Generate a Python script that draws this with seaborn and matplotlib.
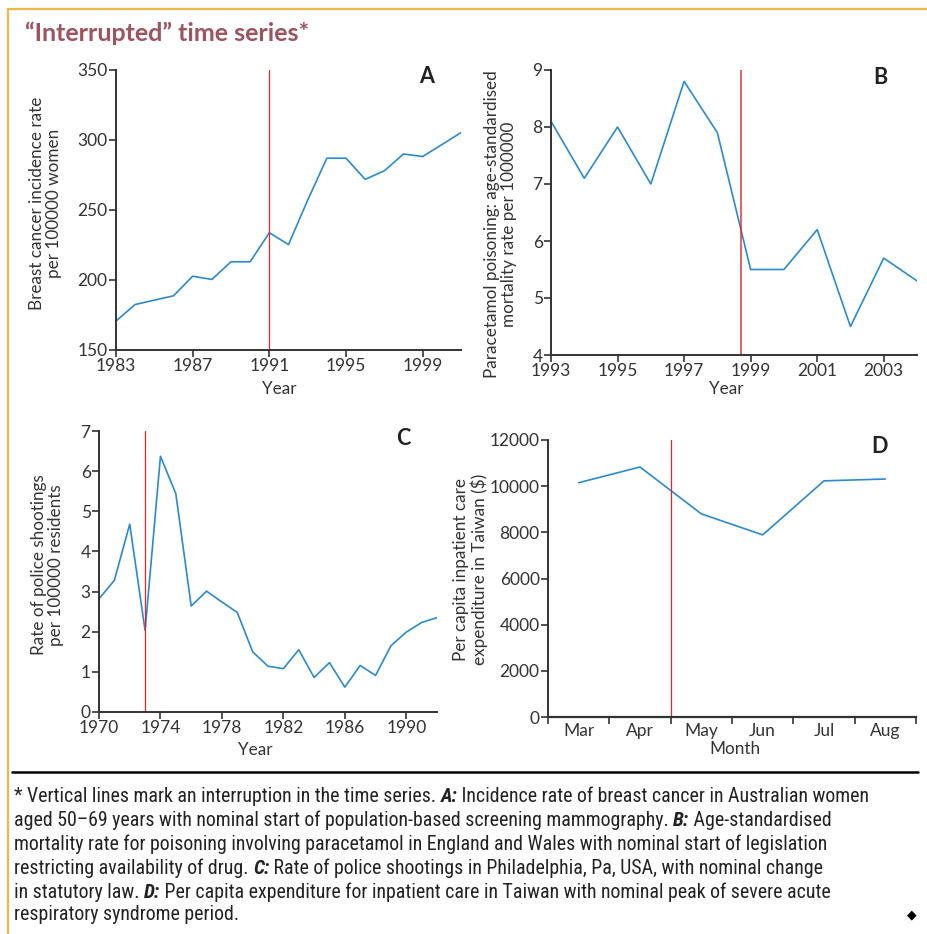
import matplotlib
matplotlib.use("Agg")
import matplotlib.pyplot as plt
import pandas as pd
import seaborn as sns
from matplotlib import font_manager
from matplotlib.lines import Line2D

sns.set_theme(style="ticks")

fonts = font_manager.fontManager.ttflist
installed = {f.name for f in fonts}
axis_font = "Lato" if "Lato" in installed else "DejaVu Sans"
plt.rcParams["font.family"] = [axis_font, "DejaVu Sans"]

# footnote in a narrow face if there is one
note_font, note_stretch = "DejaVu Sans", "normal"
for name in ["Liberation Sans Narrow", "Roboto Condensed", "Open Sans Condensed"]:
    if name in installed:
        note_font = name
        break
else:
    if any(f.name == "DejaVu Sans" and f.stretch == "condensed" for f in fonts):
        note_stretch = "condensed"

# panel A: breast cancer incidence
years_a = list(range(1983, 2002))
rate_a = [170.7, 182.5, 185.6, 188.7, 202.7, 200.4, 213, 213, 233.8, 225.3,
          257, 287, 287, 271.9, 278, 290, 288.2, 296.7, 305.3]
break_a = 1991

# panel B: paracetamol poisoning
years_b = list(range(1993, 2005))
rate_b = [8.1, 7.1, 8.0, 7.0, 8.8, 7.9, 5.5, 5.5, 6.2, 4.5, 5.7, 5.3]
break_b = 1998.7

# panel C: police shootings
years_c = list(range(1970, 1993))
rate_c = [2.82, 3.28, 4.68, 2.03, 6.37, 5.44, 2.64, 3.01, 2.74, 2.48, 1.50, 1.14,
          1.08, 1.55, 0.86, 1.23, 0.62, 1.16, 0.91, 1.65, 1.99, 2.23, 2.35]
break_c = 1973

# panel D: inpatient care expenditure
months_d = ["Mar", "Apr", "May", "Jun", "Jul", "Aug"]
spend_d = [10150, 10830, 8800, 7890, 10230, 10310]
break_d = 1.5

BLUE = "#2a8ad2"
RED = "#e8262a"
INK = "#333333"
W, H = 928, 934

fig = plt.figure(figsize=(W / 100, H / 100), dpi=100)


def box(left, top, right, bottom):
    return [left / W, 1 - bottom / H, (right - left) / W, (bottom - top) / H]


def style_axis(ax, letter, ylabel, xlabel, ylab_xy, xlab_xy):
    sns.despine(ax=ax)
    for s in ["left", "bottom"]:
        ax.spines[s].set_color(INK)
        ax.spines[s].set_linewidth(1.4)
    ax.tick_params(axis="both", colors=INK, labelcolor=INK, labelsize=12.5,
                   length=5, width=1.2, pad=1)
    ax.set_ylabel(ylabel, fontsize=12.3, color=INK, linespacing=1.1)
    ax.set_xlabel(xlabel, fontsize=12.3, color=INK)
    ax.yaxis.set_label_coords(*ylab_xy)
    ax.xaxis.set_label_coords(*xlab_xy)
    ax.text(0.9, 0.975, letter, transform=ax.transAxes, fontsize=15.5,
            fontweight="bold", color="#222222", ha="center", va="center")


ax_a = fig.add_axes(box(116, 70, 461, 350))
df_a = pd.DataFrame({"year": years_a, "rate": rate_a})
sns.lineplot(data=df_a, x="year", y="rate", ax=ax_a, color=BLUE, linewidth=1.2)
ax_a.axvline(break_a, color=RED, linewidth=0.9)
ax_a.set_xlim(1983, 2001)
ax_a.set_ylim(150, 350)
ax_a.set_xticks([1983, 1987, 1991, 1995, 1999])
ax_a.set_yticks([150, 200, 250, 300, 350])
style_axis(ax_a, "A", "Breast cancer incidence rate\nper 100000 women", "Year",
           (-0.157, 0.525), (0.472, -0.112))

ax_b = fig.add_axes(box(551, 70, 917, 355))
df_b = pd.DataFrame({"year": years_b, "rate": rate_b})
sns.lineplot(data=df_b, x="year", y="rate", ax=ax_b, color=BLUE, linewidth=1.2)
ax_b.axvline(break_b, color=RED, linewidth=1.3, alpha=0.8)
ax_b.set_xlim(1993, 2004)
ax_b.set_ylim(4, 9)
ax_b.set_xticks([1993, 1995, 1997, 1999, 2001, 2003])
ax_b.set_yticks([4, 5, 6, 7, 8, 9])
style_axis(ax_b, "B", "Paracetamol poisoning: age-standardised\nmortality rate per 1000000", "Year",
           (-0.093, 0.46), (0.478, -0.09))

ax_c = fig.add_axes(box(99, 431, 437, 712))
df_c = pd.DataFrame({"year": years_c, "rate": rate_c})
sns.lineplot(data=df_c, x="year", y="rate", ax=ax_c, color=BLUE, linewidth=1.2)
ax_c.axvline(break_c, color=RED, linewidth=0.9)
ax_c.set_xlim(1970, 1992)
ax_c.set_ylim(0, 7)
ax_c.set_xticks([1970, 1974, 1978, 1982, 1986, 1990])
ax_c.set_yticks(range(0, 8))
style_axis(ax_c, "C", "Rate of police shootings\nper 100000 residents", "Year",
           (-0.104, 0.523), (0.462, -0.105))

ax_d = fig.add_axes(box(548, 440, 916, 717))
df_d = pd.DataFrame({"month": months_d, "spend": spend_d})
sns.lineplot(data=df_d, x="month", y="spend", ax=ax_d, color=BLUE, linewidth=1.2, sort=False)
ax_d.axvline(break_d, color=RED, linewidth=0.9)
ax_d.set_xlim(-0.5, len(months_d) - 0.5)
ax_d.set_ylim(0, 12000)
ax_d.set_yticks(range(0, 12001, 2000))
ax_d.set_xticks([i - 0.5 for i in range(len(months_d) + 1)])
ax_d.set_xticklabels([])
ax_d.set_xticks(range(len(months_d)), minor=True)
ax_d.set_xticklabels(months_d, minor=True)
style_axis(ax_d, "D", "Per capita inpatient care\nexpenditure in Taiwan ($)", "Month",
           (-0.163, 0.534), (0.508, -0.088))
ax_d.tick_params(axis="x", which="minor", length=0, labelsize=12.5, labelcolor=INK, pad=4)
ax_d.spines["bottom"].set_linewidth(1.6)

# frame, title, separator
fig.add_artist(Line2D([8 / W, 8 / W], [0, 1 - 9 / H], color="#f5b547", linewidth=1.6))
fig.add_artist(Line2D([8 / W, 1], [1 - 9 / H, 1 - 9 / H], color="#f5b547", linewidth=1.6))
fig.add_artist(Line2D([12 / W, 918 / W], [1 - 772 / H, 1 - 772 / H], color="black", linewidth=1.8))
fig.text(25 / W, 1 - 33 / H, "\u201cInterrupted\u201d time series*", fontsize=18,
         fontweight="bold", color="#a0525e", va="center", ha="left")

# footnote with bold-italic panel markers
note_lines = [
    [("* Vertical lines mark an interruption in the time series. ", False), ("A:", True),
     (" Incidence rate of breast cancer in Australian women", False)],
    [("aged 50\u201369 years with nominal start of population-based screening mammography. ", False),
     ("B:", True), (" Age-standardised", False)],
    [("mortality rate for poisoning involving paracetamol in England and Wales with nominal start of legislation", False)],
    [("restricting availability of drug. ", False), ("C:", True),
     (" Rate of police shootings in Philadelphia, Pa, USA, with nominal change", False)],
    [("in statutory law. ", False), ("D:", True),
     (" Per capita expenditure for inpatient care in Taiwan with nominal peak of severe acute", False)],
    [("respiratory syndrome period.", False)],
]
line_y = [796, 820, 844, 868, 892, 915]
renderer = fig.canvas.get_renderer()


def write_line(parts, yy, size):
    x = 14
    drawn = []
    for s, em in parts:
        t = fig.text(x / W, 1 - yy / H, s, fontsize=size, family=note_font, stretch=note_stretch,
                     color="#222222", fontweight="bold" if em else "normal",
                     style="italic" if em else "normal", va="center", ha="left")
        drawn.append(t)
        x += t.get_window_extent(renderer).width
    return drawn, x - 14


# size the footnote face so the longest line nearly fills the box
size = 13.0
probe, width = write_line(note_lines[0], line_y[0], size)
for t in probe:
    t.remove()
size = min(size * 900 / width, 14.3)
for parts, yy in zip(note_lines, line_y):
    write_line(parts, yy, size)

fig.text(912 / W, 1 - 915 / H, "\u25c6", fontsize=9, color="black", ha="center", va="center",
         family="DejaVu Sans")

fig.savefig("out.png", dpi=100)
